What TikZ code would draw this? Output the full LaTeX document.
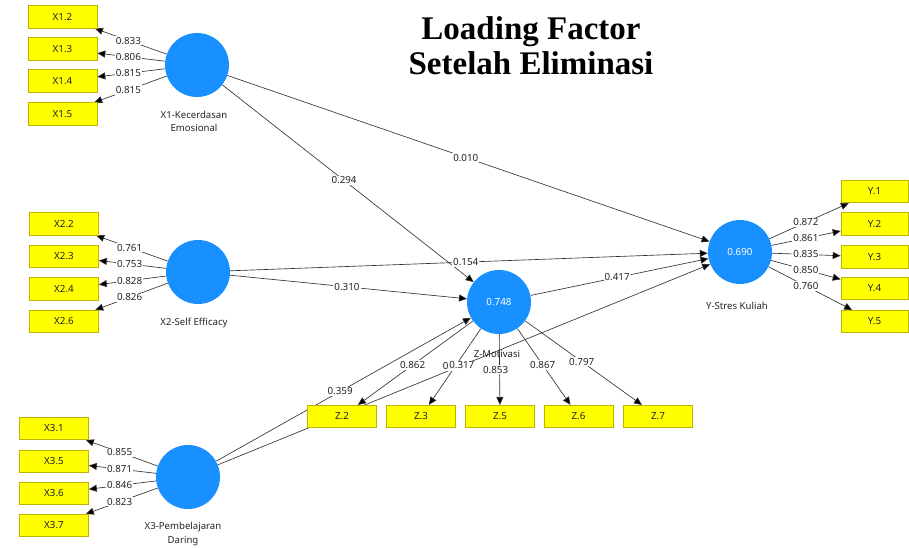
\documentclass[tikz,border=0pt]{standalone}
\usepackage{fontspec}
\setmainfont{Noto Sans}
\newfontfamily\titlefont{Liberation Serif}
\usetikzlibrary{arrows.meta}
\definecolor{boxfill}{RGB}{255,255,0}
\definecolor{boxline}{RGB}{190,180,0}
\definecolor{latent}{RGB}{24,144,255}
\definecolor{edgecol}{RGB}{50,50,50}
\definecolor{txtcol}{RGB}{35,35,45}
\pgfdeclarelayer{bg}
\pgfsetlayers{bg,main}
\tikzset{
  indic/.style={draw=boxline, fill=boxfill, line width=0.6pt, minimum width=69pt, minimum height=22.5pt, inner sep=0pt, font=\fontsize{9.8}{11}\selectfont, text=txtcol},
  lat/.style={circle, fill=latent, minimum size=64pt, inner sep=0pt, font=\fontsize{9.8}{11}\selectfont, text=white},
  latname/.style={font=\fontsize{9.6}{13.5}\selectfont, text=txtcol, align=center, inner sep=0pt},
  arr/.style={draw=edgecol, line width=0.65pt, -{Triangle[length=8pt,width=7pt,fill=black]}},
  lbl/.style={fill=white, inner sep=1pt, font=\fontsize{9.8}{11}\selectfont, text=txtcol}
}
\begin{document}
\begin{tikzpicture}[x=1pt,y=-1pt]
\useasboundingbox (0,0) rectangle (909,548);
% title
\node[font=\titlefont\bfseries\fontsize{33}{35}\selectfont, align=center, inner sep=0pt] (title) at (531,46) {Loading Factor\\Setelah Eliminasi};
% latent variables
\node[lat] (X1) at (197,65) {};
\node[lat] (X2) at (198,272) {};
\node[lat] (X3) at (188,477) {};
\node[lat] (Z) at (499,302) {0.748};
\node[lat] (Y) at (740,252) {0.690};
\node[latname] (X1n) at (194,121.5) {X1-Kecerdasan\\Emosional};
\node[latname] (X2n) at (194,323) {X2-Self Efficacy};
\node[latname] (X3n) at (183,534) {X3-Pembelajaran\\Daring};
\node[latname] (Zn) at (497,354) {Z-Motivasi};
\node[latname] (Yn) at (737,306) {Y-Stres Kuliah};
% indicators
\node[indic] (X12) at (62.5,17) {X1.2};
\node[indic] (X13) at (62.5,49) {X1.3};
\node[indic] (X14) at (62.5,81) {X1.4};
\node[indic] (X15) at (62.5,114) {X1.5};
\node[indic] (X22) at (64,224) {X2.2};
\node[indic] (X23) at (64,256.5) {X2.3};
\node[indic] (X24) at (64,289) {X2.4};
\node[indic] (X26) at (64,321.5) {X2.6};
\node[indic] (X31) at (54,428.5) {X3.1};
\node[indic] (X35) at (54,461.5) {X3.5};
\node[indic] (X36) at (54,493.5) {X3.6};
\node[indic] (X37) at (54,525.5) {X3.7};
\node[indic] (Z2) at (342,416.5) {Z.2};
\node[indic] (Z3) at (421,416.5) {Z.3};
\node[indic] (Z5) at (500,416.5) {Z.5};
\node[indic] (Z6) at (578.5,416.5) {Z.6};
\node[indic] (Z7) at (658,416.5) {Z.7};
\node[indic, minimum width=67pt] (Y1) at (874.5,191.5) {Y.1};
\node[indic, minimum width=67pt] (Y2) at (874.5,224) {Y.2};
\node[indic, minimum width=67pt] (Y3) at (874.5,257) {Y.3};
\node[indic, minimum width=67pt] (Y4) at (874.5,288.5) {Y.4};
\node[indic, minimum width=67pt] (Y5) at (874.5,321.5) {Y.5};
% connectors
\begin{pgfonlayer}{bg}
\foreach \a/\b in {X1/X12,X1/X13,X1/X14,X1/X15,X2/X22,X2/X23,X2/X24,X2/X26,X3/X31,X3/X35,X3/X36,X3/X37,Z/Z2,Z/Z3,Z/Z5,Z/Z6,Z/Z7,Y/Y1,Y/Y2,Y/Y3,Y/Y4,Y/Y5,X1/Y,X1/Z,X2/Y,X2/Z,X3/Z,X3/Y,Z/Y}
  \draw[arr] (\a) -- (\b);
\end{pgfonlayer}
% loading labels
\path (X1.center) -- node[lbl,pos=0.51]{0.833} (X12.center);
\path (X1.center) -- node[lbl,pos=0.51]{0.806} (X13.center);
\path (X1.center) -- node[lbl,pos=0.51]{0.815} (X14.center);
\path (X1.center) -- node[lbl,pos=0.51]{0.815} (X15.center);
\path (X2.center) -- node[lbl,pos=0.51]{0.761} (X22.center);
\path (X2.center) -- node[lbl,pos=0.51]{0.753} (X23.center);
\path (X2.center) -- node[lbl,pos=0.51]{0.828} (X24.center);
\path (X2.center) -- node[lbl,pos=0.51]{0.826} (X26.center);
\path (X3.center) -- node[lbl,pos=0.51]{0.855} (X31.center);
\path (X3.center) -- node[lbl,pos=0.51]{0.871} (X35.center);
\path (X3.center) -- node[lbl,pos=0.51]{0.846} (X36.center);
\path (X3.center) -- node[lbl,pos=0.51]{0.823} (X37.center);
\path (Y.center) -- node[lbl,pos=0.49]{0.872} (Y1.center);
\path (Y.center) -- node[lbl,pos=0.49]{0.861} (Y2.center);
\path (Y.center) -- node[lbl,pos=0.49]{0.835} (Y3.center);
\path (Y.center) -- node[lbl,pos=0.49]{0.850} (Y4.center);
\path (Y.center) -- node[lbl,pos=0.49]{0.760} (Y5.center);
\path (Z.center) -- node[lbl,pos=0.55]{0.862} (Z2.center);
\path (Z.center) -- node[lbl,pos=0.56]{0.\phantom{000}} (Z3.center);
\path (Z.center) -- node[lbl,pos=0.59,xshift=-4pt]{0.853} (Z5.center);
\path (Z.center) -- node[lbl,pos=0.55]{0.867} (Z6.center);
\path (Z.center) -- node[lbl,pos=0.52]{0.797} (Z7.center);
% path coefficient labels
\path (X1.center) -- node[lbl,pos=0.495]{0.010} (Y.center);
\path (X1.center) -- node[lbl,pos=0.487]{0.294} (Z.center);
\path (X2.center) -- node[lbl,pos=0.494]{0.154} (Y.center);
\path (X2.center) -- node[lbl,pos=0.495]{0.310} (Z.center);
\path (X3.center) -- node[lbl,pos=0.489]{0.359} (Z.center);
\path (X3.center) -- node[lbl,pos=0.496]{0.317} (Y.center);
\path (Z.center) -- node[lbl,pos=0.49]{0.417} (Y.center);
\end{tikzpicture}
\end{document}
